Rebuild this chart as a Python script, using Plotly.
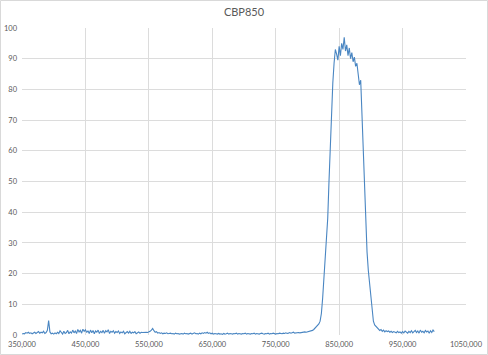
import numpy as np
import plotly.graph_objects as go

# Wavelength grid (nm), 2 nm step from 350 to 1000
wavelength = np.arange(350, 1001, 2)

# Transmission (%), per segment
t_350_398 = [0.3, 0.5, 0.4, 0.8, 0.6, 0.9, 0.5, 0.7, 0.4, 0.6,
             0.9, 0.5, 0.8, 1.1, 0.6, 0.9, 0.7, 1.2, 0.5, 0.8,
             1.5, 4.7, 1.0, 0.4, 0.6]
t_400_498 = [0.3, 0.7, 0.4, 0.9, 0.5, 1.4, 0.6, 0.3, 1.2, 0.5,
             0.8, 1.5, 0.4, 1.0, 0.6, 1.6, 0.7, 1.3, 0.5, 1.8,
             1.0, 1.5, 0.6, 1.9, 1.2, 1.7, 0.8, 1.4, 0.5, 1.6,
             0.7, 1.5, 0.4, 1.3, 0.9, 1.6, 0.5, 1.2, 0.8, 1.5,
             0.6, 1.4, 1.0, 1.7, 0.5, 1.2, 0.9, 1.4, 0.6, 1.1]
t_500_558 = [0.8, 1.3, 0.5, 1.0, 0.7, 1.2, 0.4, 0.9, 1.1, 0.6,
             1.2, 0.5, 0.9, 0.7, 1.1, 0.4, 0.8, 1.0, 0.6, 0.9,
             0.8, 0.9, 0.8, 0.9, 0.8, 0.9, 1.2, 1.6, 2.1, 1.4]
t_560_598 = [0.9, 1.1, 0.6, 0.8, 0.5, 0.7, 0.4, 0.6, 0.5, 0.7,
             0.4, 0.5, 0.6, 0.4, 0.5, 0.3, 0.6, 0.4, 0.5, 0.3]
t_600_698 = [0.4, 0.5, 0.3, 0.6, 0.4, 0.5, 0.3, 0.4, 0.6, 0.3,
             0.5, 0.7, 0.4, 0.5, 0.3, 0.6, 0.4, 0.7, 0.5, 0.8,
             0.6, 0.9, 0.5, 0.7, 0.4, 0.6, 0.3, 0.5, 0.4, 0.3,
             0.5, 0.3, 0.4, 0.2, 0.5, 0.3, 0.4, 0.6, 0.3, 0.5,
             0.4, 0.3, 0.5, 0.4, 0.6, 0.3, 0.5, 0.4, 0.3, 0.5]
t_700_798 = [0.4, 0.6, 0.3, 0.5, 0.4, 0.3, 0.5, 0.4, 0.6, 0.3,
             0.5, 0.4, 0.3, 0.5, 0.6, 0.4, 0.3, 0.5, 0.4, 0.6,
             0.3, 0.5, 0.4, 0.6, 0.5, 0.3, 0.5, 0.4, 0.6, 0.5,
             0.4, 0.6, 0.5, 0.7, 0.5, 0.6, 0.8, 0.6, 0.7, 0.9,
             0.6, 0.7, 0.6, 0.8, 0.7, 0.8, 0.9, 0.8, 1.0, 0.9]
t_800_910 = [1.0, 1.1, 1.2, 1.3, 1.5, 1.8, 2.2, 2.6, 3.0, 3.6,
             4.5, 7.0, 12.0, 19.0, 25.0, 30.5, 38.0, 50.0, 62.0, 73.0,
             82.0, 88.5, 93.0, 91.5, 89.5, 94.0, 91.0, 95.0, 93.0, 97.0,
             92.5, 94.5, 91.0, 93.5, 90.0, 92.0, 89.0, 90.5, 87.5, 88.5,
             85.0, 81.5, 83.0, 72.0, 60.0, 47.0, 35.0, 27.0, 21.0, 16.5,
             12.0, 6.5, 4.5, 3.3, 2.8, 2.3]
t_912_1000 = [1.9, 1.5, 1.8, 1.2, 1.6, 1.0, 1.4, 1.1, 1.3, 0.9,
              1.2, 0.8, 1.1, 1.0, 0.7, 1.2, 0.8, 1.0, 0.6, 1.1,
              0.7, 1.3, 0.9, 0.6, 1.2, 0.8, 1.4, 0.7, 1.1, 1.5,
              0.8, 1.3, 0.6, 1.6, 0.9, 1.2, 0.7, 1.5, 1.0, 1.3,
              0.6, 1.4, 0.8, 1.6, 1.1]

transmission = (t_350_398 + t_400_498 + t_500_558 + t_560_598 +
                t_600_698 + t_700_798 + t_800_910 + t_912_1000)

x_ticks = [350, 450, 550, 650, 750, 850, 950, 1050]
x_tick_labels = ["350,000", "450,000", "550,000", "650,000",
                 "750,000", "850,000", "950,000", "1050,000"]
y_ticks = [0, 10, 20, 30, 40, 50, 60, 70, 80, 90, 100]

fig = go.Figure()
fig.add_trace(go.Scatter(
    x=wavelength, y=transmission, mode="lines",
    line=dict(color="#4a86c2", width=1.1),
    showlegend=False, hoverinfo="skip"))

grid = "#dcdcdc"
tick_font = dict(family="Lato, Open Sans, sans-serif", size=7.5, color="#595959")

fig.update_layout(
    width=488, height=355,
    margin=dict(l=22, r=22, t=28, b=20, autoexpand=False),
    paper_bgcolor="white", plot_bgcolor="white",
    title=dict(text="CBP850", x=0.5, xanchor="center", y=1 - 12 / 355, yanchor="middle",
               font=dict(family="Lato, Open Sans, sans-serif", size=11, color="#595959")),
    xaxis=dict(range=[350, 1050], tickvals=x_ticks, ticktext=x_tick_labels,
               showgrid=True, gridcolor=grid, gridwidth=1, zeroline=False, automargin=False,
               showline=False, ticks="", tickfont=tick_font, ticklabelstandoff=3),
    yaxis=dict(range=[0, 100], tickvals=y_ticks,
               showgrid=True, gridcolor=grid, gridwidth=1, zeroline=False, automargin=False,
               showline=False, ticks="", tickfont=tick_font, ticklabelstandoff=4),
    shapes=[dict(type="rect", xref="paper", yref="paper",
                 x0=-21.5 / 444, x1=1 + 21.5 / 444, y0=-19.5 / 307, y1=1 + 27.5 / 307,
                 line=dict(color="#d9d9d9", width=1), layer="below")],
)

fig.write_html("out.html")
